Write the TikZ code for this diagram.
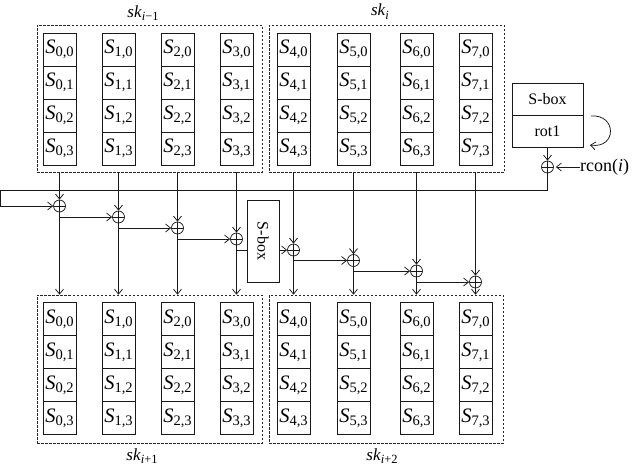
\documentclass[tikz,border=0pt]{standalone}
\usepackage{fontspec}
\setmainfont{Liberation Serif}
\newfontfamily\tmfont{Liberation Serif}
\usetikzlibrary{arrows.meta}
\newcommand{\Sij}[2]{\textit{S}\raisebox{-3pt}{\fontsize{14.5}{14.5}\selectfont #1,#2}}
\newcommand{\skl}[1]{\textit{sk}\raisebox{-3.5pt}{\fontsize{12.5}{12.5}\selectfont #1}}
\begin{document}
\begin{tikzpicture}[x=1pt,y=-1pt,
 cell/.style={draw=black!90, line width=0.75pt, minimum width=33pt, minimum height=33pt, inner sep=0pt, font=\tmfont\fontsize{20.5}{22}\selectfont},
 grp/.style={draw=black!85, dash pattern=on 2.5pt off 1.5pt, line width=0.6pt, inner sep=0pt},
 xorn/.style={circle, draw=black!90, line width=0.75pt, minimum size=12pt, inner sep=0pt,
   path picture={\draw[black!90,line width=0.75pt] (path picture bounding box.north) -- (path picture bounding box.south) (path picture bounding box.west) -- (path picture bounding box.east);}},
 arr/.style={-{Straight Barb[length=5pt,width=8pt]}},
 ln/.style={draw=black!90, line width=0.75pt},
 lbl/.style={font=\tmfont\fontsize{17}{20}\selectfont, anchor=base, inner sep=0pt},
 boxn/.style={draw=black!90, line width=0.75pt, inner sep=0pt, font=\tmfont\fontsize{16}{18}\selectfont}
]
\useasboundingbox (0,0) rectangle (633,469);

% group boxes
\node[grp, minimum width=225pt, minimum height=147pt] (tl) at (149.5,98.5) {};
\node[grp, minimum width=235pt, minimum height=147pt] (tr) at (386.5,98.5) {};
\node[grp, minimum width=225pt, minimum height=148pt] (bl) at (149.5,369) {};
\node[grp, minimum width=234pt, minimum height=148pt] (br) at (386,369) {};

% cells
\foreach \c/\x in {0/59.5,1/118.5,2/177.5,3/236.5,4/293.5,5/353.5,6/416.5,7/475.5}{
  \foreach \r/\y in {0/49.5,1/82.5,2/115.5,3/148.5}{
    \node[cell] (t\c\r) at (\x,\y) {\Sij{\c}{\r}};
  }
  \foreach \r/\y in {0/319,1/352,2/385,3/418}{
    \node[cell] (b\c\r) at (\x,\y) {\Sij{\c}{\r}};
  }
}

% labels
\node[lbl] (l1) at (143,17) {\skl{\textit{i}−1}};
\node[lbl] (l2) at (380,15.5) {\skl{\textit{i}}};
\node[lbl] (l3) at (142,460) {\skl{\textit{i}+1}};
\node[lbl] (l4) at (382,460) {\skl{\textit{i}+2}};

% xors
\foreach \c/\x/\y in {0/59.5/206,1/118.5/217,2/177.5/228,3/236.5/239,4/293.5/250,5/353.5/260.5,6/416.5/271,7/475.5/282}{
  \node[xorn] (x\c) at (\x,\y) {};
}

% middle S-box
\node[boxn, minimum width=32pt, minimum height=82pt] (sb) at (263,241) {\rotatebox{-90}{S-box}};

% S-box / rot1 block
\node[boxn, minimum width=71pt, minimum height=32pt] (sbx) at (547.5,99) {S-box};
\node[boxn, minimum width=71pt, minimum height=32pt] (rot) at (547.5,131) {rot1};
\node[xorn] (xr) at (547.5,167) {};
\node[font=\tmfont\fontsize{18}{20}\selectfont, anchor=west, inner sep=0pt] (rc) at (580,167) {rcon(\textit{i})};

% vertical connectors
\foreach \c in {0,...,7}{
  \draw[ln,arr] (t\c3.south |- tl.south) -- (x\c.north);
  \draw[ln,arr] (x\c.south) -- (b\c0.north |- bl.north);
}

% chain
\foreach \a/\b in {0/1,1/2,2/3,4/5,5/6,6/7}{
  \draw[ln,arr] (x\a |- x\b) -- (x\b.west);
}
\draw[ln] (x3 |- x4) -- (x4 -| sb.west);
\draw[ln,arr] (x4 -| sb.east) -- (x4.west);

% feedback
\coordinate (fl) at (0.8,190);
\draw[ln,arr] (rot.south) -- (xr.north);
\draw[ln,arr] (xr.south) |- (fl) |- (x0.west);
\draw[ln,arr,shorten >=2pt] (rc.west |- xr) -- (xr.east);

% rotation arc
\coordinate (ra) at (591,116);
\coordinate (rb) at (590,145);
\draw[ln,arr] (ra) .. controls (617,114) and (617,149) .. (rb);
\end{tikzpicture}
\end{document}
